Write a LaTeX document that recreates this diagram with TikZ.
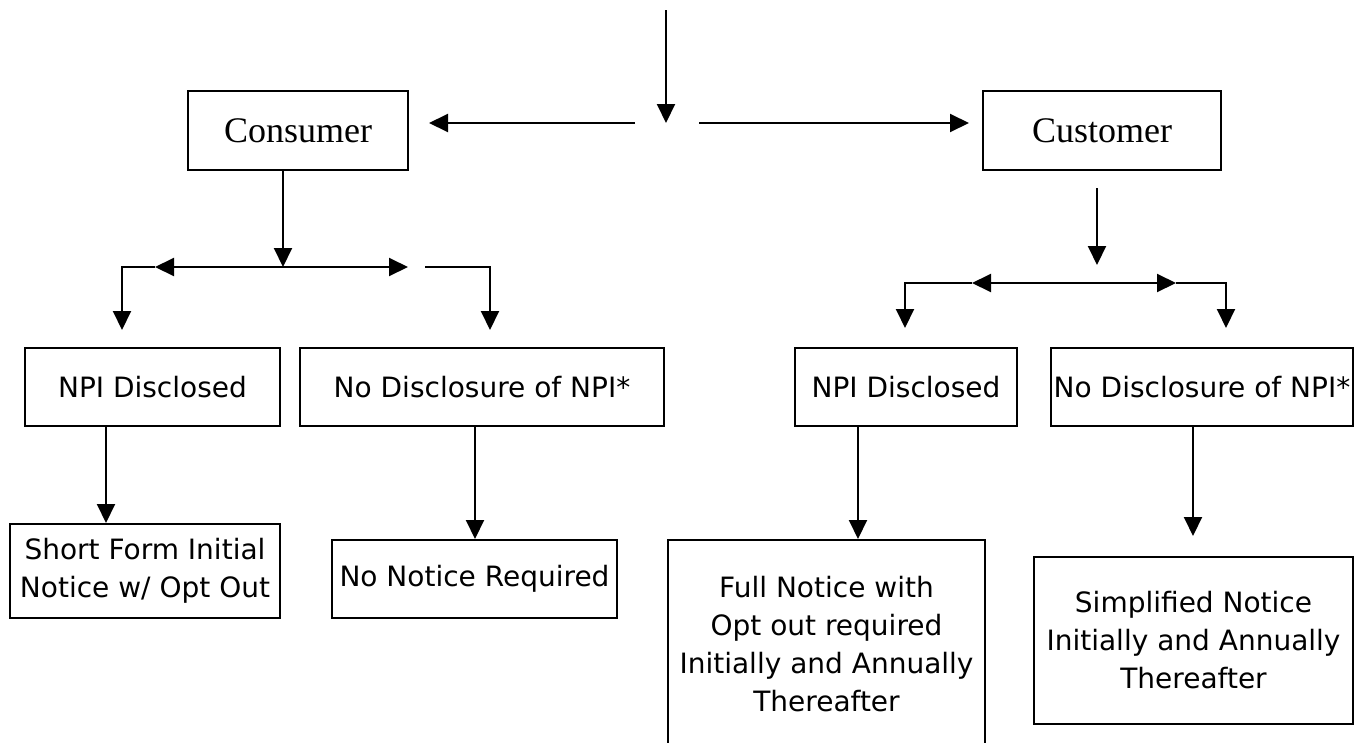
\documentclass[tikz,border=0pt]{standalone}
\usepackage{fontspec}
\setmainfont{Liberation Serif}
\newfontfamily\boxfont{DejaVu Sans}
\usetikzlibrary{arrows.meta}
\begin{document}
\begin{tikzpicture}[x=1pt,y=-1pt,line width=2pt,
  box/.style={draw,line width=2pt,inner sep=0pt,align=center,font=\boxfont\fontsize{28}{38}\selectfont},
  headbox/.style={draw,line width=2pt,inner sep=0pt,font=\fontsize{36}{40}\selectfont},
  arr/.style={-{Triangle[length=19pt,width=18pt]}}]
\useasboundingbox[fill=white] (0,0) rectangle (1363,742);
% nodes
\node[headbox,minimum width=220pt,minimum height=79pt] (consumer) at (298,130.5) {Consumer};
\node[headbox,minimum width=238pt,minimum height=79pt] (customer) at (1102,130.5) {Customer};
\node[box,minimum width=255pt,minimum height=78pt] (npiA) at (152.5,387) {NPI Disclosed};
\node[box,minimum width=364pt,minimum height=78pt] (nodiscA) at (482,387) {No Disclosure of NPI*};
\node[box,minimum width=270pt,minimum height=94pt] (shortf) at (145,571) {Short Form Initial\\Notice w/ Opt Out};
\node[box,minimum width=285pt,minimum height=78pt] (nonot) at (474.5,579) {No Notice Required};
\node[box,minimum width=222pt,minimum height=78pt] (npiB) at (906,387) {NPI Disclosed};
\node[box,minimum width=302pt,minimum height=78pt] (nodiscB) at (1202,387) {No Disclosure of NPI*};
\node[box,minimum width=317pt,minimum height=208pt] (fulln) at (826.5,644) {Full Notice with\\Opt out required\\Initially and Annually\\Thereafter};
\node[box,minimum width=319pt,minimum height=167pt] (simpl) at (1193.5,640.5) {Simplified Notice\\Initially and Annually\\Thereafter};
% top arrows
\coordinate (top) at (666,10);
\coordinate (hub) at (666,123);
\coordinate (hubL) at (635,123);
\coordinate (hubR) at (699,123);
\draw[arr] (top) -- (hub);
\draw[arr,shorten >=20pt] (hubL) -- (hubL -| consumer.east);
\draw[arr,shorten >=13pt] (hubR) -- (hubR -| customer.west);
% consumer branch
\coordinate (cb) at (283,267);
\coordinate (cbL) at (155,267);
\coordinate (cbLc) at (122,267);
\coordinate (cbLd) at (122,330);
\coordinate (cbR) at (408,267);
\coordinate (cbR2) at (425,267);
\coordinate (cbRc) at (490,267);
\coordinate (cbRd) at (490,330);
\draw[arr] (cb |- consumer.south) -- (cb);
\draw[arr] (cb) -- (cbL);
\draw[arr] (cbL) -- (cbLc) -- (cbLd);
\draw[arr] (cb) -- (cbR);
\draw[arr] (cbR2) -- (cbRc) -- (cbRd);
% customer branch
\coordinate (cuA) at (1097,265);
\coordinate (cuB) at (1097,283);
\coordinate (cuL) at (972,283);
\coordinate (cuLc) at (905,283);
\coordinate (cuLd) at (905,328);
\coordinate (cuR) at (1176,283);
\coordinate (cuRc) at (1226,283);
\coordinate (cuRd) at (1226,328);
\draw[arr,shorten <=17pt] (cuA |- customer.south) -- (cuA);
\draw[arr] (cuB) -- (cuL);
\draw[arr] (cuL) -- (cuLc) -- (cuLd);
\draw[arr] (cuB) -- (cuR);
\draw[arr] (cuR) -- (cuRc) -- (cuRd);
% lower arrows
\coordinate (xa) at (106,0);
\coordinate (xb) at (475,0);
\coordinate (xc) at (858,0);
\coordinate (xd) at (1193,0);
\draw[arr] (xa |- npiA.south) -- (xa |- shortf.north);
\draw[arr] (xb |- nodiscA.south) -- (xb |- nonot.north);
\draw[arr] (xc |- npiB.south) -- (xc |- fulln.north);
\draw[arr,shorten >=20pt] (xd |- nodiscB.south) -- (xd |- simpl.north);
\end{tikzpicture}
\end{document}
